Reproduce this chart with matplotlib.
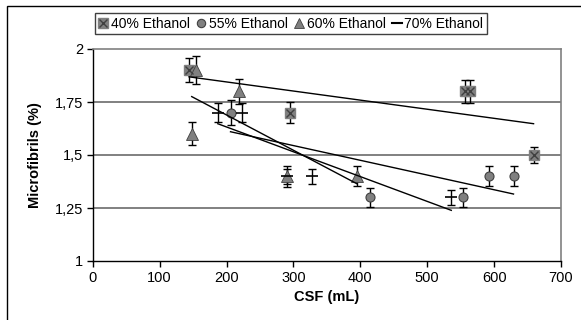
import numpy as np
import matplotlib
matplotlib.use("Agg")
from matplotlib import pyplot as plt
from matplotlib.lines import Line2D
from matplotlib.patches import Rectangle
from matplotlib.legend_handler import HandlerTuple

plt.rcParams['font.family'] = ['Liberation Sans', 'DejaVu Sans']

# values
x40 = [144, 295, 557, 564, 659]
y40 = [1.9, 1.7, 1.8, 1.8, 1.5]
e40 = [0.058, 0.05, 0.053, 0.053, 0.04]

x55 = [206, 415, 554, 592, 629]
y55 = [1.7, 1.3, 1.3, 1.4, 1.4]
e55 = [0.06, 0.045, 0.045, 0.048, 0.048]

x60 = [148, 155, 218, 291, 395]
y60 = [1.6, 1.9, 1.8, 1.4, 1.4]
e60 = [0.055, 0.065, 0.06, 0.05, 0.047]

x70 = [187, 223, 291, 328, 536]
y70 = [1.7, 1.7, 1.4, 1.4, 1.3]
e70 = [0.045, 0.045, 0.035, 0.035, 0.035]

labels = ["40% Ethanol", "55% Ethanol", "60% Ethanol", "70% Ethanol"]
yticks = [1, 1.25, 1.5, 1.75, 2]
yticklabels = ["1", "1,25", "1,5", "1,75", "2"]
xticks = [0, 100, 200, 300, 400, 500, 600, 700]

fill = '#808080'
edge = '#404040'

fig = plt.figure(figsize=(5.81, 3.2), dpi=100)
ax = fig.add_axes([92.7/581, 59/320, (561-92.7)/581, (261-49)/320])

for yv in [1.25, 1.5, 1.75]:
    ax.axhline(yv, color='#808080', lw=1.4, zorder=0)

eb = dict(fmt='none', ecolor='black', elinewidth=1, capsize=3, capthick=1, zorder=2)

ax.errorbar(x40, y40, yerr=e40, **eb)
ax.plot(x40, y40, 's', ms=7.5, mfc=fill, mec=fill, zorder=3)
ax.plot(x40, y40, 'x', ms=6, mec=edge, mew=1, zorder=4)

ax.errorbar(x55, y55, yerr=e55, **eb)
ax.plot(x55, y55, 'o', ms=6.5, mfc=fill, mec=edge, mew=0.8, zorder=3)

ax.errorbar(x60, y60, yerr=e60, **eb)
ax.plot(x60, y60, '^', ms=8, mfc=fill, mec=edge, mew=0.6, zorder=3)

ax.errorbar(x70, y70, yerr=e70, **eb)
ax.plot(x70, y70, '_', ms=8, mec='black', mew=1.2, zorder=3)

# linear trend lines, one per series
for xs, ys in [(x40, y40), (x55, y55), (x60, y60), (x70, y70)]:
    k, b = np.polyfit(xs, ys, 1)
    xx = np.array([min(xs), max(xs)])
    ax.plot(xx, k*xx + b, color='black', lw=1, zorder=5)

ax.set_xlim(0, 700)
ax.set_ylim(1, 2)
ax.set_xticks(xticks)
ax.set_yticks(yticks)
ax.set_yticklabels(yticklabels)
ax.tick_params(direction='out', length=4, width=1, labelsize=10.5, colors='black', pad=3)
for s in ['left', 'bottom']:
    ax.spines[s].set_color('black')
    ax.spines[s].set_linewidth(1)
for s in ['top', 'right']:
    ax.spines[s].set_color('#808080')
    ax.spines[s].set_linewidth(1.2)

ax.set_xlabel("CSF (mL)", fontsize=10.5, fontweight='bold', labelpad=4)
ax.set_ylabel("Microfibrils (%)", fontsize=10.5, fontweight='bold', labelpad=9)

h40 = (Line2D([], [], marker='s', ls='none', ms=7, mfc=fill, mec=fill),
       Line2D([], [], marker='x', ls='none', ms=5.5, mec=edge, mew=1))
h55 = Line2D([], [], marker='o', ls='none', ms=6, mfc=fill, mec=edge, mew=0.8)
h60 = Line2D([], [], marker='^', ls='none', ms=7.5, mfc=fill, mec=edge, mew=0.6)
h70 = Line2D([], [], color='black', lw=1.5)

leg = fig.legend([h40, h55, h60, h70], labels, ncol=4, loc='center',
                 bbox_to_anchor=(291/581, 1-23.8/320), bbox_transform=fig.transFigure,
                 fontsize=10, frameon=True, fancybox=False, framealpha=1,
                 edgecolor='#404040', handlelength=0.7, handletextpad=0.2,
                 columnspacing=0.45, borderpad=0.25, borderaxespad=0,
                 handler_map={tuple: HandlerTuple(ndivide=1, pad=0)})
leg.get_frame().set_linewidth(1)

fig.add_artist(Rectangle((7/581, -0.1), 1.2, 1 - 6/320 + 0.1, transform=fig.transFigure,
                         fill=False, edgecolor='black', lw=1))

fig.savefig("out.png", dpi=100)
